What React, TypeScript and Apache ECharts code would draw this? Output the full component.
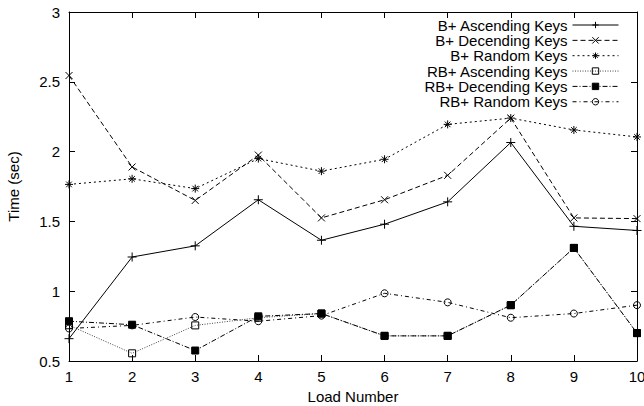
import React, { useEffect, useRef } from 'react';
import * as echarts from 'echarts';

const loads = [1, 2, 3, 4, 5, 6, 7, 8, 9, 10];
const bAsc = [0.66, 1.245, 1.325, 1.655, 1.365, 1.48, 1.64, 2.065, 1.465, 1.435];
const bDec = [2.545, 1.89, 1.65, 1.975, 1.525, 1.655, 1.83, 2.24, 1.525, 1.52];
const bRand = [1.765, 1.805, 1.735, 1.95, 1.86, 1.945, 2.195, 2.24, 2.155, 2.105];
const rbAsc = [0.756, 0.555, 0.755, 0.81, 0.84, 0.68, 0.68, 0.9, 1.31, 0.7];
const rbDec = [0.785, 0.76, 0.575, 0.82, 0.84, 0.68, 0.68, 0.9, 1.31, 0.7];
const rbRand = [0.733, 0.755, 0.815, 0.785, 0.825, 0.985, 0.92, 0.81, 0.84, 0.9];

const seriesNames = [
  'B+ Ascending Keys',
  'B+ Decending Keys',
  'B+ Random Keys',
  'RB+ Ascending Keys',
  'RB+ Decending Keys',
  'RB+ Random Keys',
];
const xTitle = 'Load Number';
const yTitle = 'Time (sec)';

const FONT = '"Liberation Sans", Arial, Helvetica, sans-serif';

const PLUS = 'path://M0,5L10,5M5,0L5,10';
const CROSS = 'path://M0,0L10,10M10,0L0,10';
const STAR = 'path://M0,5L10,5M5,0L5,10M1.5,1.5L8.5,8.5M8.5,1.5L1.5,8.5';

function pairs(vals: number[]) {
  return loads.map((x, i) => [x, vals[i]]);
}

export default function App() {
  const ref = useRef<HTMLDivElement>(null);
  useEffect(() => {
    if (!ref.current) return;
    const chart = echarts.init(ref.current, null, { renderer: 'svg' });
    const mk = (
      name: string,
      vals: number[],
      symbol: string,
      size: number,
      dash: any,
      opts: any = {}
    ) => ({
      name,
      type: 'line',
      data: pairs(vals),
      symbol,
      symbolSize: size,
      showAllSymbol: true,
      lineStyle: { color: opts.lineColor || '#000', width: 1, type: dash },
      itemStyle: {
        color: opts.fill || '#000',
        borderColor: '#000',
        borderWidth: 1,
      },
      emphasis: { disabled: true },
      z: opts.z || 2,
    });
    const axisCommon = {
      axisLine: { show: true, onZero: false, lineStyle: { color: '#000', width: 1 } },
      axisTick: { show: true, inside: true, length: 6, lineStyle: { color: '#000', width: 1 } },
      splitLine: { show: false },
    };
    const clear = 'rgba(0,0,0,0)';
    chart.setOption({
      animation: false,
      backgroundColor: '#fff',
      textStyle: { fontFamily: FONT, color: '#000' },
      grid: { left: 69, right: 7, top: 12, bottom: 45, containLabel: false, outerBoundsMode: 'none' },
      legend: {
        orient: 'vertical',
        right: 25,
        top: 17.5,
        align: 'right',
        padding: 0,
        itemGap: 0.35,
        itemWidth: 46,
        itemHeight: 8,
        selectedMode: false,
        lineStyle: { width: 1 },
        itemStyle: { borderWidth: 1 },
        textStyle: { fontFamily: FONT, fontSize: 15, color: '#000' },
        data: seriesNames,
      },
      xAxis: [
        {
          type: 'value',
          min: 1,
          max: 10,
          interval: 1,
          name: xTitle,
          nameLocation: 'middle',
          nameGap: 26,
          nameTextStyle: { fontFamily: FONT, fontSize: 15, color: '#000' },
          axisLabel: { fontFamily: FONT, fontSize: 15, color: '#000', margin: 8 },
          ...axisCommon,
        },
        {
          type: 'value',
          position: 'top',
          min: 1,
          max: 10,
          interval: 1,
          axisLabel: { show: false },
          ...axisCommon,
        },
      ],
      yAxis: [
        {
          type: 'value',
          min: 0.5,
          max: 3,
          interval: 0.5,
          name: yTitle,
          nameLocation: 'middle',
          nameGap: 48,
          nameTextStyle: { fontFamily: FONT, fontSize: 15, color: '#000' },
          axisLabel: { fontFamily: FONT, fontSize: 15, color: '#000', margin: 9 },
          ...axisCommon,
        },
        {
          type: 'value',
          position: 'right',
          min: 0.5,
          max: 3,
          interval: 0.5,
          axisLabel: { show: false },
          ...axisCommon,
        },
      ],
      series: [
        mk(seriesNames[0], bAsc, PLUS, 9, 'solid'),
        mk(seriesNames[1], bDec, CROSS, 7, [5, 3]),
        mk(seriesNames[2], bRand, STAR, 8, [2, 3]),
        mk(seriesNames[3], rbAsc, 'rect', 7, [1, 1.5], { lineColor: '#444', fill: clear }),
        mk(seriesNames[4], rbDec, 'rect', 7, [5, 2, 1, 2]),
        mk(seriesNames[5], rbRand, 'circle', 7, [4, 3, 1, 3], { fill: clear }),
      ],
    });
    return () => chart.dispose();
  }, []);
  return (
    <div
      ref={ref}
      style={{ position: 'fixed', left: 0, top: 0, width: 644, height: 406 }}
    />
  );
}
